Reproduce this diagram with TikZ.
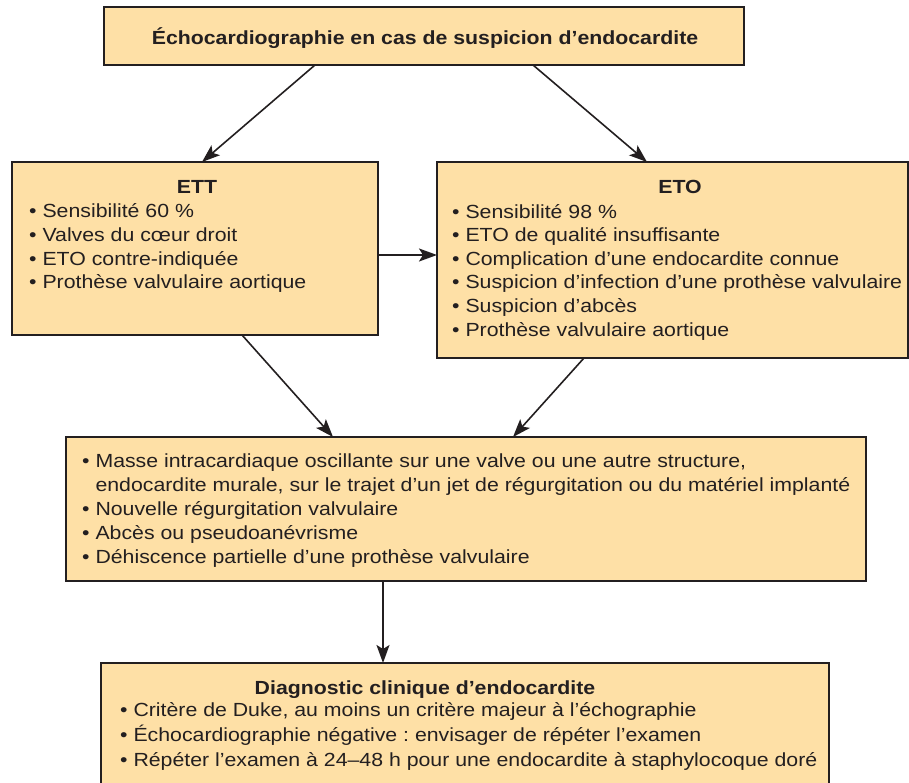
\documentclass[tikz,border=0pt]{standalone}
\usepackage{fontspec}
\setmainfont{Liberation Sans}[FakeStretch=1.12]
\usetikzlibrary{arrows.meta,calc}
\definecolor{boxfill}{HTML}{FEE0A6}
\definecolor{ink}{HTML}{231F20}
\frenchspacing

\begin{document}
\begin{tikzpicture}[x=1pt,y=-1pt,
  box/.style={draw=ink,line width=1.8pt,fill=boxfill,inner sep=0pt,outer sep=0pt,anchor=north west},
  txt/.style={text=ink,align=left,anchor=base west,inner sep=0pt,font=\fontsize{19}{23.6}\selectfont},
  head/.style={text=ink,anchor=base,inner sep=0pt,font=\fontsize{19}{23.6}\selectfont\bfseries},
  arr/.style={draw=ink,line width=1.6pt,-{Stealth[length=18pt,width=13pt,inset=4pt]}}]
  \useasboundingbox (0,0) rectangle (909,783);
  \clip (0,0) rectangle (909,783);
  % boxes
  \node[box,minimum width=640pt,minimum height=58pt] (top) at (104,7) {};
  \node[box,minimum width=366pt,minimum height=173pt] (ett) at (12,162) {};
  \node[box,minimum width=471pt,minimum height=196pt] (eto) at (437,162) {};
  \node[box,minimum width=800pt,minimum height=144pt] (mid) at (66,437) {};
  \node[box,minimum width=728pt,minimum height=150pt] (diag) at (101,663) {};
  % texts (lists placed at the baseline of their last line)
  \node[head] (toptitle) at (425,45) {Échocardiographie en cas de suspicion d’endocardite};
  \node[head] (etttitle) at (197,194) {ETT};
  \node[txt] (ettlist) at (29,288.8) {• Sensibilité 60~\%\\• Valves du cœur droit\\• ETO contre-indiquée\\• Prothèse valvulaire aortique};
  \node[head] (etotitle) at (680,194) {ETO};
  \node[txt] (etolist) at (452,336) {• Sensibilité 98~\%\\• ETO de qualité insuffisante\\• Complication d’une endocardite connue\\• Suspicion d’infection d’une prothèse valvulaire\\• Suspicion d’abcès\\• Prothèse valvulaire aortique};
  \node[txt,font=\fontsize{19}{24}\selectfont] (midlist) at (82,563) {• Masse intracardiaque oscillante sur une valve ou une autre structure,\\\phantom{• }endocardite murale, sur le trajet d’un jet de régurgitation ou du matériel implanté\\• Nouvelle régurgitation valvulaire\\• Abcès ou pseudoanévrisme\\• Déhiscence partielle d’une prothèse valvulaire};
  \node[head] (diagtitle) at (425,694) {Diagnostic clinique d’endocardite};
  \node[txt,font=\fontsize{19}{25}\selectfont] (diaglist) at (120,766) {• Critère de Duke, au moins un critère majeur à l’échographie\\• Échocardiographie négative : envisager de répéter l’examen\\• Répéter l’examen à 24–48 h pour une endocardite à staphylocoque doré};
  % arrows
  \draw[arr] ([xshift=211pt]top.south west) -- ([xshift=190pt]ett.north west);
  \draw[arr] ([xshift=429pt]top.south west) -- ([xshift=210pt]eto.north west);
  \draw[arr] ([yshift=-6.5pt]ett.east) -- ([yshift=-6.5pt]ett.east -| eto.west);
  \draw[arr] ([xshift=230pt]ett.south west) -- ([xshift=267pt]mid.north west);
  \draw[arr] ([xshift=147pt]eto.south west) -- ([xshift=447pt]mid.north west);
  \draw[arr] ([xshift=317pt]mid.south west) -- ([xshift=317pt]mid.south west |- diag.north);
\end{tikzpicture}
\end{document}
